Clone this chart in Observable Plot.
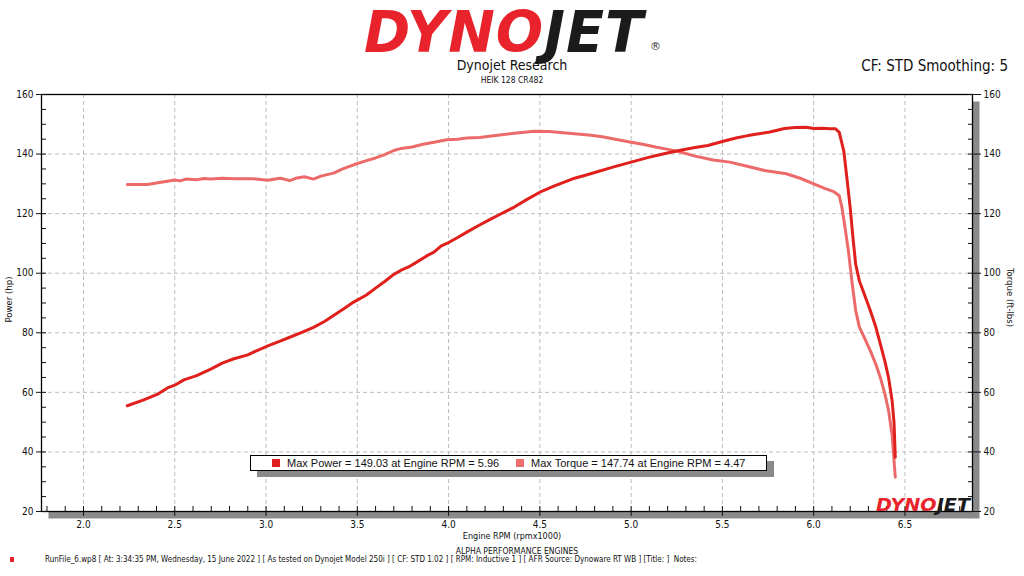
<!DOCTYPE html>
<html>
<head>
<meta charset="utf-8">
<script src="https://cdn.jsdelivr.net/npm/d3@7"></script>
<script src="https://cdn.jsdelivr.net/npm/@observablehq/plot@0.6"></script>
<style>
  html, body { margin: 0; padding: 0; background: #fff; }
  #page { position: relative; width: 1024px; height: 576px; overflow: hidden; background: #fff;
          font-family: "Liberation Sans Narrow", "DejaVu Sans Condensed", "Liberation Sans", sans-serif; color: #111; }
  .abs { position: absolute; white-space: nowrap; }
  #chart { position: absolute; left: 0; top: 0; }
  .logo { font-family: "DejaVu Sans", sans-serif; font-weight: bold; font-style: italic; }
</style>
</head>
<body>
<div id="page">
  <div id="chart"></div>
  <svg class="abs" style="left:350px; top:0px; overflow:visible;" width="330" height="56">
    <text class="logo" x="14" y="52" font-size="57" letter-spacing="1" textLength="280" lengthAdjust="spacingAndGlyphs"><tspan fill="#e8232b">DYNO</tspan><tspan fill="#1b1b1b">JET</tspan></text>
    <text x="300" y="50" font-size="11" fill="#333" font-family="DejaVu Sans, sans-serif">®</text>
  </svg>
  <div class="abs" style="left:412px; width:200px; text-align:center; top:58px; font-size:14px; line-height:15px;">Dynojet Research</div>
  <div class="abs" style="left:412px; width:200px; text-align:center; top:75px; font-size:8.5px; line-height:10px;">HEIK 128 CR482</div>
  <div class="abs" style="right:16px; top:57px; font-size:15px;">CF: STD Smoothing: 5</div>
  <div class="abs" style="left:-22px; top:294px; width:60px; text-align:center; font-size:9.5px; transform:rotate(-90deg);">Power (hp)</div>
  <div class="abs" style="left:975px; top:292px; width:70px; text-align:center; font-size:9.5px; transform:rotate(90deg);">Torque (ft-lbs)</div>
  <div class="abs" style="left:412px; width:200px; text-align:center; top:531px; font-size:9px;">Engine RPM (rpmx1000)</div>
  <div class="abs" style="left:412px; width:210px; text-align:center; top:546px; font-size:8.5px;">ALPHA PERFORMANCE ENGINES</div>
  <div class="abs" style="left:10px; top:557px; width:4px; height:5px; background:#e8232b;"></div>
  <div class="abs" style="left:45px; top:555px; font-size:8px;">RunFile_6.wp8 [ At: 3:34:35 PM, Wednesday, 15 June 2022 ] [ As tested on Dynojet Model 250i ] [ CF: STD 1.02 ] [ RPM: Inductive 1 ] [ AFR Source: Dynoware RT WB ] [Title: ]&nbsp;&nbsp;Notes:</div>
  <div id="legend" class="abs" style="left:250px; top:455px; width:515px; height:14px; border:1px solid #000; background:#fff; box-shadow:7px 6px 0 #8a8a8a; font-family:'Liberation Sans', sans-serif; font-size:11px; line-height:14px;"></div>
  <svg class="abs" style="left:870px; top:494px; overflow:visible;" width="104" height="20">
    <text class="logo" x="6" y="17" font-size="18" textLength="94" lengthAdjust="spacingAndGlyphs"><tspan fill="#e8232b">DYNO</tspan><tspan fill="#1b1b1b">JET</tspan></text>
  </svg>
</div>
<script>
// Power curve (hp) vs engine RPM (x1000)
const powerRpm = [2.24,2.33,2.41,2.46,2.50,2.55,2.62,2.70,2.76,2.82,2.90,2.96,3.01,3.07,3.13,3.20,3.26,3.32,3.37,3.43,3.48,3.55,3.60,3.65,3.70,3.74,3.79,3.83,3.88,3.92,3.96,4.00,4.05,4.10,4.17,4.22,4.28,4.36,4.43,4.50,4.58,4.68,4.75,4.81,4.90,5.00,5.09,5.18,5.27,5.35,5.42,5.51,5.58,5.64,5.70,5.76,5.84,5.90,5.96,6.00,6.05,6.09,6.12,6.14,6.165,6.18,6.20,6.215,6.23,6.25,6.28,6.31,6.34,6.365,6.39,6.41,6.43,6.44,6.447];
const powerHp  = [55.5,57.5,59.5,61.5,62.4,64.2,65.6,67.9,69.8,71.2,72.6,74.3,75.6,77.0,78.5,80.2,81.8,83.8,85.8,88.2,90.3,92.7,95.0,97.2,99.6,101.0,102.4,103.9,105.8,107.1,109.2,110.3,112.0,113.8,116.2,117.8,119.7,122.2,124.8,127.2,129.3,131.7,132.9,134.0,135.6,137.3,138.8,140.1,141.3,142.2,142.9,144.4,145.5,146.2,146.8,147.4,148.6,148.9,149.0,148.6,148.7,148.5,148.5,147.3,141.0,133.0,122.0,112.0,103.0,97.5,92.5,87.5,82.0,76.3,70.5,65.0,57.0,50.0,38.2];
// Torque curve (ft-lbs) vs engine RPM (x1000)
const torqueRpm = [2.24,2.35,2.40,2.46,2.50,2.53,2.56,2.62,2.66,2.70,2.76,2.83,2.93,2.97,3.01,3.05,3.08,3.13,3.17,3.21,3.26,3.30,3.37,3.42,3.48,3.55,3.60,3.65,3.70,3.74,3.80,3.86,3.92,3.99,4.05,4.10,4.17,4.28,4.36,4.47,4.55,4.69,4.78,4.85,4.92,5.00,5.07,5.14,5.21,5.27,5.35,5.45,5.54,5.63,5.73,5.85,5.93,6.00,6.06,6.11,6.14,6.155,6.17,6.19,6.21,6.23,6.25,6.28,6.31,6.34,6.365,6.39,6.41,6.43,6.447];
const torqueLb  = [129.8,129.8,130.3,130.9,131.3,131.0,131.6,131.4,131.8,131.6,131.9,131.7,131.7,131.5,131.2,131.6,131.9,131.1,132.0,132.4,131.6,132.6,133.6,135.0,136.4,137.8,138.7,139.8,141.2,141.9,142.4,143.3,144.0,144.8,145.0,145.4,145.6,146.4,147.0,147.7,147.6,146.8,146.3,145.7,144.9,144.0,143.2,142.3,141.5,140.7,139.3,138.0,137.3,136.0,134.5,133.4,131.8,130.0,128.5,127.4,126.0,122.0,116.0,107.6,97.0,87.5,82.0,78.0,74.0,69.5,65.0,59.5,54.0,45.5,31.5];

const xTicks = [2.0,2.5,3.0,3.5,4.0,4.5,5.0,5.5,6.0,6.5];
const xMinorTicks = d3.range(18, 69).map(d => d / 10);
const yTicks = [20,40,60,80,100,120,140,160];
const yMinorTicks = d3.range(20, 161, 5);
const xDomain = [1.77, 6.87];
const yDomain = [20, 160];

const legendItems = [
  {label: "Max Power = 149.03 at Engine RPM = 5.96", color: "#e0201c"},
  {label: "Max Torque = 147.74 at Engine RPM = 4.47", color: "#ee6e6e"}
];
const powerColor = "#e0201c";
const torqueColor = "#ec6a6a";

const power = powerRpm.map((r, i) => ({rpm: r, v: powerHp[i]}));
const torque = torqueRpm.map((r, i) => ({rpm: r, v: torqueLb[i]}));

const chart = Plot.plot({
  width: 1024,
  height: 576,
  marginLeft: 41,
  marginRight: 52,
  marginTop: 94,
  marginBottom: 65,
  style: {fontFamily: '"Liberation Sans Narrow", "DejaVu Sans Condensed", sans-serif', fontSize: "10px", color: "#111", background: "transparent"},
  x: {domain: xDomain},
  y: {domain: yDomain},
  marks: [
    Plot.frame({fill: "#8a8a8a", stroke: null, dx: 7, dy: 7}),
    Plot.frame({fill: "#fff", stroke: null}),
    Plot.gridX(xTicks, {stroke: "#bdbdbd", strokeOpacity: 1, strokeDasharray: "4,3"}),
    Plot.gridY(yTicks, {stroke: "#bdbdbd", strokeOpacity: 1, strokeDasharray: "4,3"}),
    Plot.line(torque, {x: "rpm", y: "v", stroke: torqueColor, strokeWidth: 3, strokeLinejoin: "round"}),
    Plot.line(power, {x: "rpm", y: "v", stroke: powerColor, strokeWidth: 3, strokeLinejoin: "round"}),
    Plot.frame({stroke: "#000", strokeWidth: 1.3}),
    // left axis
    Plot.axisY({anchor: "left", ticks: yTicks, tickSize: 5, tickPadding: 3, label: null, tickFormat: d => d}),
    Plot.axisY({anchor: "left", ticks: yMinorTicks, tickSize: 5, dx: 5, tickFormat: () => "", label: null}),
    // right axis
    Plot.axisY({anchor: "right", ticks: yTicks, tickSize: 8, tickPadding: 3, label: null, tickFormat: d => d}),
    Plot.axisY({anchor: "right", ticks: yMinorTicks, tickSize: 5, dx: -5, tickFormat: () => "", label: null}),
    // bottom axis
    Plot.axisX({anchor: "bottom", ticks: xTicks, tickSize: 5, tickPadding: 4, label: null, tickFormat: d3.format(".1f")}),
    Plot.axisX({anchor: "bottom", ticks: xMinorTicks, tickSize: 5, dy: -5, tickFormat: () => "", label: null})
  ]
});
document.getElementById("chart").appendChild(chart);

const legend = document.getElementById("legend");
const offsets = [21, 265];
legendItems.forEach((item, i) => {
  const sq = document.createElement("span");
  sq.style.cssText = `position:absolute; left:${offsets[i]}px; top:3px; width:8px; height:8px; background:${item.color};`;
  const t = document.createElement("span");
  t.style.cssText = `position:absolute; left:${offsets[i] + 15}px; top:0px;`;
  t.textContent = item.label;
  legend.appendChild(sq);
  legend.appendChild(t);
});
</script>
</body>
</html>
